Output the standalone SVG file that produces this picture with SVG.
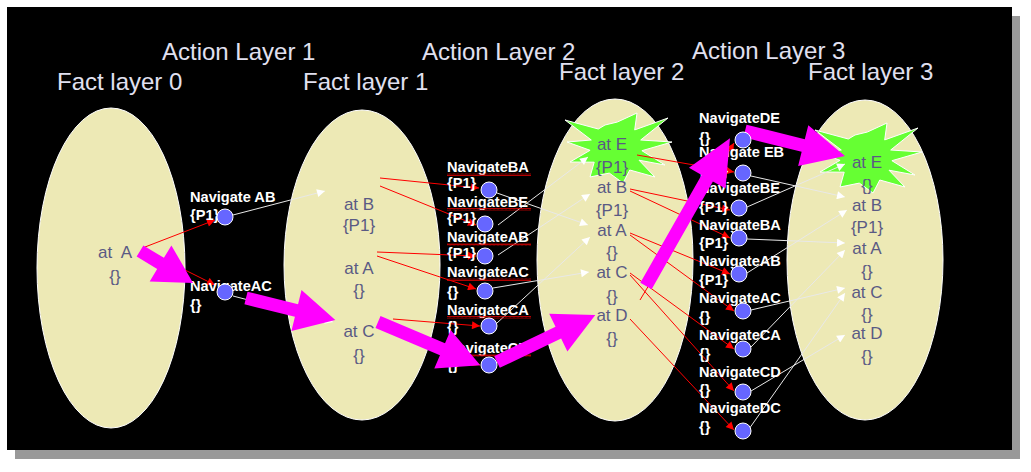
<svg xmlns="http://www.w3.org/2000/svg" width="1031" height="472" viewBox="0 0 1031 472">
<style>
.title{font-family:"Liberation Sans",Arial,sans-serif;font-size:24px;fill:#E0E0F0}
.fact{font-family:"Liberation Sans",Arial,sans-serif;font-size:17px;fill:#5A5A84;text-anchor:middle}
.lbl{font-family:"Liberation Sans",Arial,sans-serif;font-size:14.6px;font-weight:bold;fill:#FFFFFF}
.ell{fill:#EDE9B5;stroke:#FFFFFF;stroke-width:1}
.star{fill:#66FF33;stroke:#FFFFFF;stroke-width:1}
.act{fill:#6666FF;stroke:#FFFFFF;stroke-width:1}
.pre{stroke:#FF0000;stroke-width:1;fill:none;marker-end:url(#ar)}
.eff{stroke:#E8E8E8;stroke-width:1;fill:none;marker-end:url(#aw)}
.big{fill:#FF00FF}
.sq{fill:url(#sq)}
</style>
<defs>
<marker id="ar" viewBox="0 0 10 10" refX="10" refY="5" markerWidth="10" markerHeight="8" markerUnits="userSpaceOnUse" orient="auto"><path d="M0,0 L10,5 L0,10 z" fill="#FF0000"/></marker>
<marker id="aw" viewBox="0 0 10 10" refX="10" refY="5" markerWidth="11" markerHeight="8" markerUnits="userSpaceOnUse" orient="auto"><path d="M0,0 L10,5 L0,10 z" fill="#FFFFFF"/></marker>
<pattern id="sq" width="4" height="3" patternUnits="userSpaceOnUse"><path d="M0,2.5 L1,0.5 L2,2.5 L3,0.5 L4,2.5" stroke="#E00000" stroke-width="0.8" fill="none"/></pattern>
</defs>
<rect x="0" y="0" width="1031" height="472" fill="#FFFFFF"/>
<rect x="15" y="16" width="1005" height="443" fill="#999999"/>
<rect x="7" y="7" width="1005" height="443" fill="#000000"/>

<g id="titles">
<text class="title" x="162" y="60">Action Layer 1</text>
<text class="title" x="422" y="60">Action Layer 2</text>
<text class="title" x="692" y="59">Action Layer 3</text>
<text class="title" x="57" y="90">Fact layer 0</text>
<text class="title" x="303" y="90">Fact layer 1</text>
<text class="title" x="559" y="80">Fact layer 2</text>
<text class="title" x="808" y="80">Fact layer 3</text>
</g>

<g id="fact-layer-0">
<ellipse class="ell" cx="111" cy="268" rx="74" ry="160"/>
<text class="fact" x="115" y="258" xml:space="preserve">at  A</text>
<text class="fact" x="115" y="282">{}</text>
</g>
<g id="fact-layer-1">
<ellipse class="ell" cx="362" cy="265" rx="78" ry="155"/>
<text class="fact" x="359" y="210">at B</text>
<text class="fact" x="359" y="231">{P1}</text>
<text class="fact" x="359" y="274">at A</text>
<text class="fact" x="359" y="296">{}</text>
<text class="fact" x="359" y="337">at C</text>
<text class="fact" x="359" y="361">{}</text>
</g>
<g id="fact-layer-2">
<ellipse class="ell" cx="615" cy="260" rx="78" ry="161"/>
<polygon class="star" points="565,120 598.3,129 605,125 617.4,122 637,113 634.7,129.9 668,118 640.7,140 672,142 641.9,150.7 665,165 639,160.2 655,177 629.8,170 623,183 609.3,173.1 590,177 594.2,162.2 570,162 590.1,150.3 567,142 591.3,140"/>
<text class="fact" x="612" y="150">at E</text>
<text class="fact" x="612" y="173">{P1}</text>
<text class="fact" x="612" y="193">at B</text>
<text class="fact" x="612" y="216">{P1}</text>
<text class="fact" x="612" y="236">at A</text>
<text class="fact" x="612" y="258">{}</text>
<text class="fact" x="612" y="278">at C</text>
<text class="fact" x="612" y="302">{}</text>
<text class="fact" x="612" y="321">at D</text>
<text class="fact" x="612" y="344">{}</text>
</g>
<g id="fact-layer-3">
<ellipse class="ell" cx="865" cy="260" rx="78" ry="160"/>
<polygon class="star" transform="translate(250,10)" points="565,120 598.3,129 605,125 617.4,122 637,113 634.7,129.9 668,118 640.7,140 672,142 641.9,150.7 665,165 639,160.2 655,177 629.8,170 623,183 609.3,173.1 590,177 594.2,162.2 570,162 590.1,150.3 567,142 591.3,140"/>
<text class="fact" x="867" y="168">at E</text>
<text class="fact" x="867" y="191">{}</text>
<text class="fact" x="867" y="211">at B</text>
<text class="fact" x="867" y="233">{P1}</text>
<text class="fact" x="867" y="254">at A</text>
<text class="fact" x="867" y="277">{}</text>
<text class="fact" x="867" y="298">at C</text>
<text class="fact" x="867" y="320">{}</text>
<text class="fact" x="867" y="339">at D</text>
<text class="fact" x="867" y="362">{}</text>
</g>

<g id="connectors">
<!-- layer 1 -->
<line class="pre" x1="145" y1="247" x2="215" y2="220"/>
<line class="pre" x1="145" y1="250" x2="215" y2="285"/>
<line class="eff" x1="233" y1="215" x2="325" y2="191"/>
<line class="eff" x1="233" y1="296" x2="333" y2="322"/>
<!-- layer 2 preconditions -->
<line class="pre" x1="380" y1="178" x2="479" y2="188"/>
<line class="pre" x1="380" y1="186" x2="476" y2="225"/>
<line class="pre" x1="377" y1="252" x2="476" y2="256"/>
<line class="pre" x1="377" y1="256" x2="476" y2="289"/>
<line class="pre" x1="393" y1="319" x2="480" y2="326"/>
<line class="pre" x1="385" y1="331" x2="480" y2="365"/>
<!-- layer 2 effects -->
<line class="eff" x1="497" y1="193" x2="588" y2="225"/>
<line class="eff" x1="498" y1="225" x2="588" y2="157"/>
<line class="eff" x1="498" y1="255" x2="590" y2="194"/>
<line class="eff" x1="493" y1="288" x2="589" y2="272"/>
<line class="eff" x1="497" y1="323" x2="590" y2="237"/>
<line class="eff" x1="497" y1="363" x2="592" y2="315"/>
<!-- layer 3 preconditions -->
<line class="pre" x1="637" y1="155" x2="734" y2="172"/>
<line class="pre" x1="640" y1="300" x2="734" y2="143"/>
<line class="pre" x1="630" y1="189" x2="730" y2="210"/>
<line class="pre" x1="630" y1="191" x2="730" y2="238"/>
<line class="pre" x1="630" y1="233" x2="730" y2="274"/>
<line class="pre" x1="630" y1="235" x2="734" y2="311"/>
<line class="pre" x1="630" y1="273" x2="734" y2="349"/>
<line class="pre" x1="630" y1="275" x2="734" y2="391"/>
<line class="pre" x1="630" y1="319" x2="734" y2="430"/>
<!-- layer 3 effects -->
<line class="eff" x1="751" y1="176" x2="845" y2="197"/>
<line class="eff" x1="747" y1="207" x2="845" y2="164"/>
<line class="eff" x1="747" y1="239" x2="845" y2="243"/>
<line class="eff" x1="747" y1="273" x2="847" y2="210"/>
<line class="eff" x1="751" y1="310" x2="845" y2="288"/>
<line class="eff" x1="751" y1="347" x2="845" y2="250"/>
<line class="eff" x1="751" y1="391" x2="845" y2="335"/>
<line class="eff" x1="749" y1="429" x2="845" y2="293"/>
</g>

<g id="action-labels">
<text class="lbl" x="190" y="202">Navigate AB</text>
<text class="lbl" x="190" y="220">{P1}</text>
<text class="lbl" x="190" y="291">NavigateAC</text>
<text class="lbl" x="190" y="310">{}</text>

<text class="lbl" x="447" y="172">NavigateBA</text>
<text class="lbl" x="447" y="188">{P1}</text>
<text class="lbl" x="447" y="207">NavigateBE</text>
<text class="lbl" x="447" y="223">{P1}</text>
<text class="lbl" x="447" y="242">NavigateAB</text>
<text class="lbl" x="447" y="258">{P1}</text>
<text class="lbl" x="447" y="277">NavigateAC</text>
<text class="lbl" x="447" y="297">{}</text>
<text class="lbl" x="447" y="315">NavigateCA</text>
<text class="lbl" x="447" y="332">{}</text>
<text class="lbl" x="447" y="353">NavigateCD</text>
<text class="lbl" x="447" y="370">{}</text>
<rect class="sq" x="447" y="173" width="84" height="3"/>
<rect class="sq" x="447" y="208" width="84" height="3"/>
<rect class="sq" x="447" y="243" width="84" height="3"/>
<rect class="sq" x="447" y="278" width="84" height="3"/>
<rect class="sq" x="447" y="316" width="84" height="3"/>
<rect class="sq" x="447" y="354" width="84" height="3"/>

<text class="lbl" x="699" y="123">NavigateDE</text>
<text class="lbl" x="699" y="143">{}</text>
<text class="lbl" x="699" y="157">Navigate EB</text>
<text class="lbl" x="699" y="176">{P1}</text>
<text class="lbl" x="699" y="193">NavigateBE</text>
<text class="lbl" x="699" y="212">{P1}</text>
<text class="lbl" x="699" y="230">NavigateBA</text>
<text class="lbl" x="699" y="248">{P1}</text>
<text class="lbl" x="699" y="266">NavigateAB</text>
<text class="lbl" x="699" y="285">{P1}</text>
<text class="lbl" x="699" y="303">NavigateAC</text>
<text class="lbl" x="699" y="322">{}</text>
<text class="lbl" x="699" y="340">NavigateCA</text>
<text class="lbl" x="699" y="359">{}</text>
<text class="lbl" x="699" y="377">NavigateCD</text>
<text class="lbl" x="699" y="395">{}</text>
<text class="lbl" x="699" y="413">NavigateDC</text>
<text class="lbl" x="699" y="432">{}</text>
</g>

<g id="plan-arrows">
<polygon class="big" points="0,-6.5 24,-6.5 24,-21 62,0 24,21 24,6.5 0,6.5" transform="translate(140,251) rotate(31.1)"/>
<polygon class="big" points="0,-6.5 52,-6.5 52,-21 92,0 52,21 52,6.5 0,6.5" transform="translate(246,298) rotate(13.9)"/>
<polygon class="big" points="0,-6.5 70,-6.5 70,-21 111,0 70,21 70,6.5 0,6.5" transform="translate(378,322) rotate(22.9)"/>
<polygon class="big" points="0,-6.5 68,-6.5 68,-21 109,0 68,21 68,6.5 0,6.5" transform="translate(497,362) rotate(-25.6)"/>
<polygon class="big" points="0,-6.5 124,-6.5 124,-21 170,0 124,21 124,6.5 0,6.5" transform="translate(646,286) rotate(-60.4)"/>
<polygon class="big" points="0,-6.5 60,-6.5 60,-21 103,0 60,21 60,6.5 0,6.5" transform="translate(745,131) rotate(14)"/>
</g>

<g id="action-layer-1">
<circle class="act" cx="225" cy="217" r="8"/>
<circle class="act" cx="225" cy="292" r="8"/>
</g>
<g id="action-layer-2">
<circle class="act" cx="489" cy="190" r="8"/>
<circle class="act" cx="485" cy="224" r="8"/>
<circle class="act" cx="485" cy="256" r="8"/>
<circle class="act" cx="485" cy="291" r="8"/>
<circle class="act" cx="489" cy="326" r="8"/>
<circle class="act" cx="489" cy="365" r="8"/>
</g>
<g id="action-layer-3">
<circle class="act" cx="743" cy="140" r="8"/>
<circle class="act" cx="743" cy="173" r="8"/>
<circle class="act" cx="739" cy="208" r="8"/>
<circle class="act" cx="739" cy="238" r="8"/>
<circle class="act" cx="739" cy="274" r="8"/>
<circle class="act" cx="743" cy="311" r="8"/>
<circle class="act" cx="743" cy="349" r="8"/>
<circle class="act" cx="743" cy="392" r="8"/>
<circle class="act" cx="743" cy="431" r="8"/>
</g>
</svg>
